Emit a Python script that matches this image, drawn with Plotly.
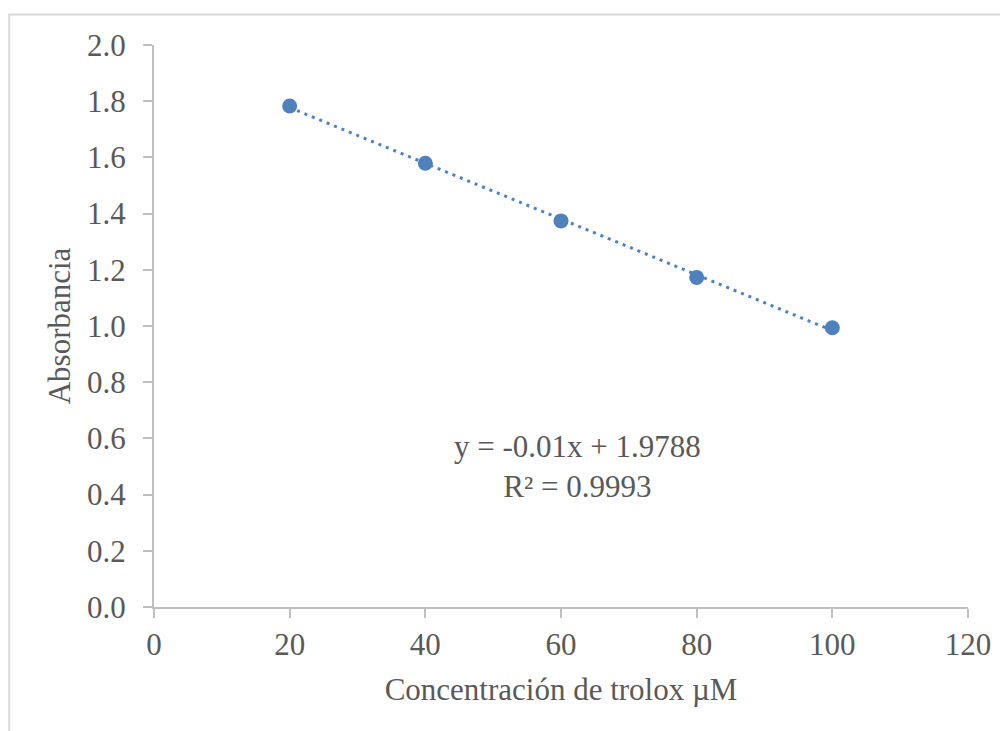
import numpy as np
import plotly.graph_objects as go

# Data
concentration = [20, 40, 60, 80, 100]
absorbance = [1.783, 1.579, 1.374, 1.173, 0.994]
equation_text = "y = -0.01x + 1.9788"
r2_text = "R² = 0.9993"
x_ticks = [0, 20, 40, 60, 80, 100, 120]
y_ticks = [0.0, 0.2, 0.4, 0.6, 0.8, 1.0, 1.2, 1.4, 1.6, 1.8, 2.0]

# Linear trendline from the data
slope, intercept = np.polyfit(concentration, absorbance, 1)
trend_x = [min(concentration), max(concentration)]
trend_y = [slope * v + intercept for v in trend_x]

BLUE = "#4F81BD"
GRAY_TXT = "#595959"
AXIS_COL = "#BFBFBF"
FONT = "Liberation Serif, Times New Roman, serif"

fig = go.Figure()
fig.add_trace(go.Scatter(x=trend_x, y=trend_y, mode="lines",
                         line=dict(color=BLUE, width=3, dash="3px,5px"),
                         hoverinfo="skip", showlegend=False))
fig.add_trace(go.Scatter(x=concentration, y=absorbance, mode="markers",
                         marker=dict(color=BLUE, size=15), showlegend=False))

fig.add_annotation(x=62.5, y=0.50, xref="x", yref="y",
                   text=equation_text + "<br>" + r2_text, showarrow=False,
                   font=dict(family=FONT, size=31, color=GRAY_TXT), align="center")

# Outer chart border
fig.add_shape(type="rect", xref="paper", yref="paper",
              x0=(9.5 - 154.3) / 814, x1=1.07, y0=-0.3, y1=(607 - 14.5) / 562,
              line=dict(color="#D9D9D9", width=2), fillcolor="rgba(0,0,0,0)", layer="below")

fig.update_layout(
    width=1008, height=731,
    margin=dict(l=146, r=48, t=37, b=132),
    paper_bgcolor="white", plot_bgcolor="white",
    font=dict(family=FONT, size=31, color=GRAY_TXT),
    xaxis=dict(range=[0, 120], tickvals=x_ticks, showgrid=False, zeroline=False,
               showline=True, linecolor=AXIS_COL, linewidth=2,
               ticks="outside", ticklen=9, tickwidth=2, tickcolor=AXIS_COL,
               tickfont=dict(family=FONT, size=31, color=GRAY_TXT),
               title=dict(text="Concentración de trolox µM", standoff=17,
                          font=dict(family=FONT, size=31, color=GRAY_TXT))),
    yaxis=dict(range=[0, 2.0], tickvals=y_ticks, tickformat=".1f", showgrid=False,
               zeroline=False, showline=True, linecolor=AXIS_COL, linewidth=2,
               ticks="outside", ticklen=9, tickwidth=2, tickcolor=AXIS_COL,
               ticklabelstandoff=11,
               tickfont=dict(family=FONT, size=31, color=GRAY_TXT),
               title=dict(text="Absorbancia", standoff=7,
                          font=dict(family=FONT, size=31, color=GRAY_TXT))),
)

fig.write_html("out.html")
